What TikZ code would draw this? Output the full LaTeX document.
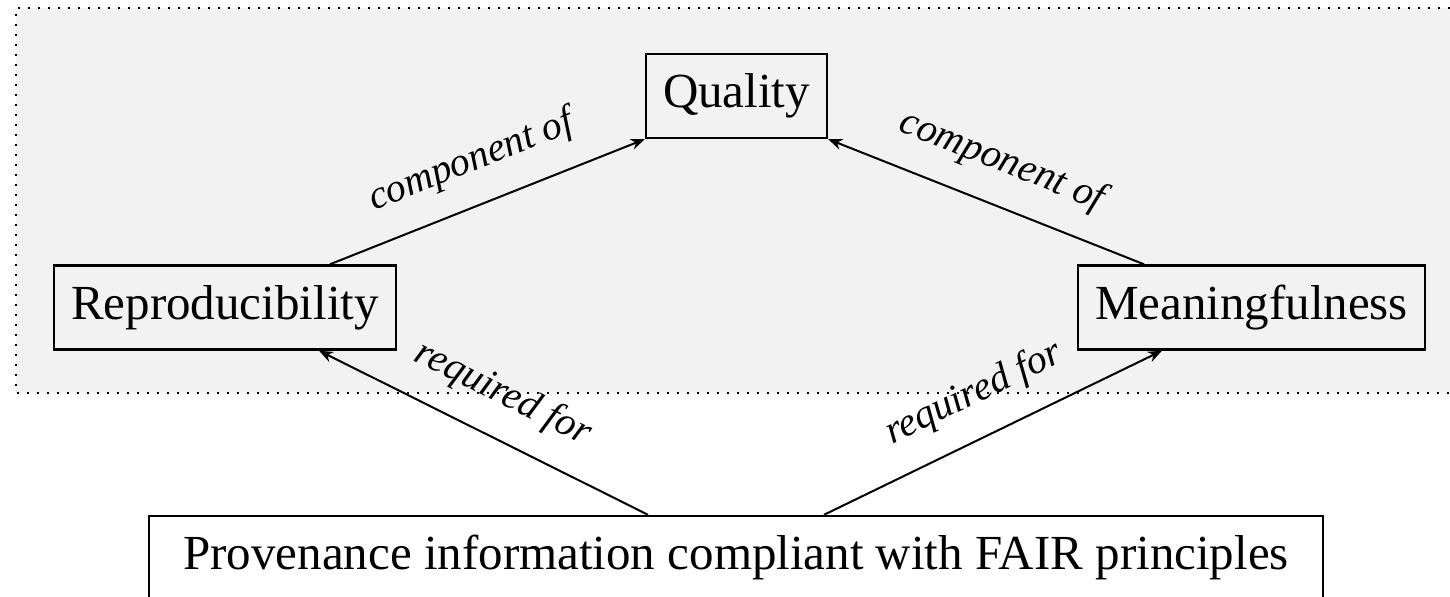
\documentclass[tikz,border=0pt]{standalone}
\usepackage{fontspec}
\setmainfont{Liberation Serif}
\usetikzlibrary{arrows.meta,calc}
\begin{document}
\begin{tikzpicture}[x=0.5pt,y=-0.5pt,
  box/.style={draw,line width=1.2pt,font=\fontsize{24.5}{29}\selectfont,inner xsep=8.5pt,minimum height=42pt,text height=17pt,text depth=5pt},
  conn/.style={line width=1pt,-{Stealth[length=7pt,width=5.5pt]}},
  lbl/.style={midway,sloped,above=12pt,inner sep=0pt,font=\fontsize{20}{24}\selectfont\itshape}]
\useasboundingbox (0,0) rectangle (1450,597);
\clip (0,0) rectangle (1450,597);
\fill[black!5] (16,8) rectangle (1470,393);
\draw[line width=1pt,dash pattern=on 1pt off 4pt] (1470,8) -- (16,8) -- (16,393) -- (1470,393);
\node[box] (qual) at (736.5,96) {Quality};
\node[box] (repr) at (225,307.5) {Reproducibility};
\node[box] (mean) at (1251.5,307.5) {Meaningfulness};
\node[box,minimum width=587pt] (prov) at (736,558) {Provenance information compliant with FAIR principles};
\draw[conn] ([xshift=52.5pt]repr.north) -- (qual.south west) node[lbl]{component of};
\draw[conn] ([xshift=-53.75pt]mean.north) -- (qual.south east) node[lbl]{component of};
\draw[conn] ([xshift=-44pt]prov.north) -- ([xshift=47pt]repr.south) node[lbl]{required for};
\draw[conn] ([xshift=44pt]prov.north) -- ([xshift=-44.75pt]mean.south) node[lbl]{required for};
\end{tikzpicture}
\end{document}
